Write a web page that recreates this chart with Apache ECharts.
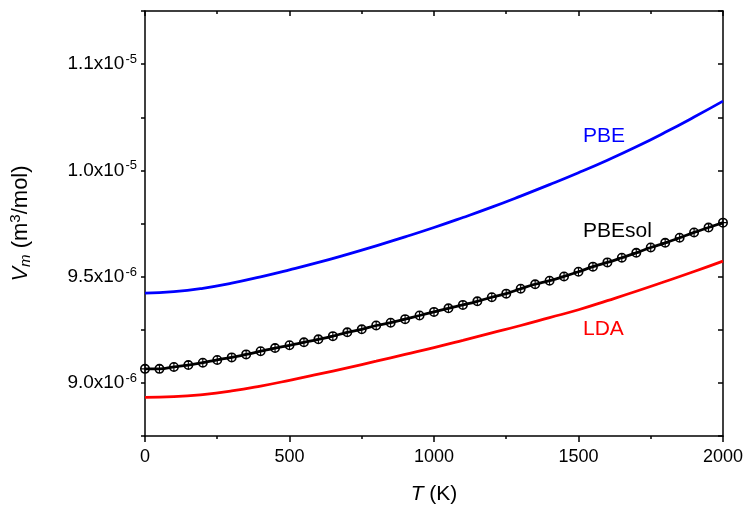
<!DOCTYPE html>
<html>
<head>
<meta charset="utf-8">
<script src="https://cdn.jsdelivr.net/npm/echarts@6/dist/echarts.min.js"></script>
<style>
html,body{margin:0;padding:0;background:#fff;}
#chart{width:746px;height:510px;}
</style>
</head>
<body>
<div id="chart"></div>
<script>
// Temperatures (K)
const T_100 = [0,100,200,300,400,500,600,700,800,900,1000,1100,1200,1300,1400,1500,1600,1700,1800,1900,2000];
const T_50 = [0,50,100,150,200,250,300,350,400,450,500,550,600,650,700,750,800,850,900,950,1000,1050,1100,1150,1200,1250,1300,1350,1400,1450,1500,1550,1600,1650,1700,1750,1800,1850,1900,1950,2000];
// Molar volume, in units of 1e-6 m^3/mol
const PBE = [9.422,9.429,9.445,9.469,9.499,9.532,9.567,9.605,9.645,9.687,9.731,9.778,9.827,9.879,9.933,9.989,10.048,10.111,10.179,10.251,10.326];
const LDA = [8.932,8.935,8.945,8.962,8.985,9.012,9.041,9.071,9.102,9.134,9.166,9.200,9.235,9.270,9.307,9.344,9.387,9.431,9.477,9.524,9.573];
const PBEsol = [9.066,9.066,9.075,9.084,9.095,9.108,9.120,9.134,9.149,9.164,9.177,9.191,9.205,9.220,9.238,9.252,9.270,9.283,9.300,9.317,9.334,9.351,9.367,9.384,9.403,9.420,9.443,9.464,9.481,9.501,9.523,9.547,9.567,9.589,9.612,9.637,9.659,9.683,9.708,9.731,9.754];
// Y tick labels (as printed in the original)
const yTickValues = [9.0, 9.5, 10.0, 10.5];
const yTickMantissa = ['9.0x10', '9.5x10', '1.0x10', '1.1x10'];
const yTickExponent = ['-6', '-6', '-5', '-5'];
const xTickValues = [0, 500, 1000, 1500, 2000];

const FONT = 'Liberation Sans, Arial, sans-serif';
const zip = (xs, ys) => xs.map((x, i) => [x, ys[i]]);

const markerPath = 'path://M0,10 A10,10 0 1,0 20,10 A10,10 0 1,0 0,10 Z M3.2,10 A6.8,6.8 0 1,1 16.8,10 A6.8,6.8 0 1,1 3.2,10 Z M8.9,3.2 L11.1,3.2 L11.1,16.8 L8.9,16.8 Z M3.2,8.9 L16.8,8.9 L16.8,11.1 L3.2,11.1 Z';

const chart = echarts.init(document.getElementById('chart'), null, {renderer: 'canvas'});
const axisLine = {show: true, onZero: false, lineStyle: {color: '#000', width: 1.5}};
const option = {
  backgroundColor: '#fff',
  animation: false,
  grid: {left: 144, right: 22, top: 11, bottom: 73, containLabel: false},
  xAxis: [{
    type: 'value', min: 0, max: 2000, interval: 500, position: 'bottom',
    axisLine: axisLine,
    axisTick: {show: true, inside: false, length: 6, lineStyle: {color: '#000', width: 1.5}},
    minorTick: {show: true, splitNumber: 2, length: 3, lineStyle: {color: '#000', width: 1.5}},
    splitLine: {show: false},
    axisLabel: {color: '#000', fontSize: 18, fontFamily: FONT, margin: 12,
      formatter: v => xTickValues.indexOf(v) >= 0 ? String(v) : ''},
    name: '{i|T} (K)', nameLocation: 'middle', nameGap: 48,
    nameTextStyle: {color: '#000', fontSize: 21, fontFamily: FONT,
      rich: {i: {fontStyle: 'italic', fontSize: 21, fontFamily: FONT, color: '#000'}}}
  }, {
    type: 'value', min: 0, max: 2000, interval: 500, position: 'top',
    axisLine: axisLine,
    axisTick: {show: true, inside: true, length: 5, lineStyle: {color: '#000', width: 1.5}},
    minorTick: {show: true, splitNumber: 2, length: 3, lineStyle: {color: '#000', width: 1.5}},
    splitLine: {show: false}, axisLabel: {show: false}
  }],
  yAxis: [{
    type: 'value', min: 8.75, max: 10.75, interval: 0.25, position: 'left',
    axisLine: axisLine,
    axisTick: {show: true, inside: false, length: 4, lineStyle: {color: '#000', width: 1.5}},
    splitLine: {show: false},
    axisLabel: {color: '#000', fontSize: 19, fontFamily: FONT, margin: 8,
      formatter: v => {
        const i = yTickValues.findIndex(t => Math.abs(t - v) < 1e-6);
        return i >= 0 ? '{m|' + yTickMantissa[i] + '}{e|' + yTickExponent[i] + '}' : '';
      },
      rich: {
        m: {fontSize: 19, fontFamily: FONT, color: '#000', lineHeight: 22},
        e: {fontSize: 13, fontFamily: FONT, color: '#000', verticalAlign: 'top', lineHeight: 13, padding: [0, 0, 10, 1]}
      }},
    name: '{v|V}{s|m} (m{p|3}/mol)', nameLocation: 'middle', nameRotate: 90, nameGap: 112,
    nameTextStyle: {color: '#000', fontSize: 22, fontFamily: FONT,
      rich: {
        v: {fontStyle: 'italic', fontSize: 22, fontFamily: FONT, color: '#000'},
        s: {fontStyle: 'italic', fontSize: 15, fontFamily: FONT, color: '#000', padding: [10, 0, 0, 0]},
        p: {fontSize: 15, fontFamily: FONT, color: '#000', padding: [0, 0, 10, 0]}
      }}
  }, {
    type: 'value', min: 8.75, max: 10.75, interval: 0.25, position: 'right',
    axisLine: axisLine,
    axisTick: {show: true, inside: true, length: 5, lineStyle: {color: '#000', width: 1.5}},
    splitLine: {show: false}, axisLabel: {show: false}
  }],
  series: [
    {name: 'PBE', type: 'line', data: zip(T_100, PBE), smooth: true, showSymbol: false,
     lineStyle: {color: '#0000ff', width: 2.8}, z: 3},
    {name: 'LDA', type: 'line', data: zip(T_100, LDA), smooth: true, showSymbol: false,
     lineStyle: {color: '#ff0000', width: 2.8}, z: 3},
    {name: 'PBEsol', type: 'line', data: zip(T_50, PBEsol), smooth: true,
     symbol: markerPath, symbolSize: 10, showAllSymbol: true,
     itemStyle: {color: '#000'},
     lineStyle: {color: '#000', width: 2.8}, z: 4}
  ],
  graphic: [
    {type: 'text', left: 583, top: 126, style: {text: 'PBE', fill: '#0000ff', font: '21px ' + FONT}},
    {type: 'text', left: 583, top: 221, style: {text: 'PBEsol', fill: '#000', font: '21px ' + FONT}},
    {type: 'text', left: 583, top: 319, style: {text: 'LDA', fill: '#ff0000', font: '21px ' + FONT}}
  ]
};
chart.setOption(option);
</script>
</body>
</html>
